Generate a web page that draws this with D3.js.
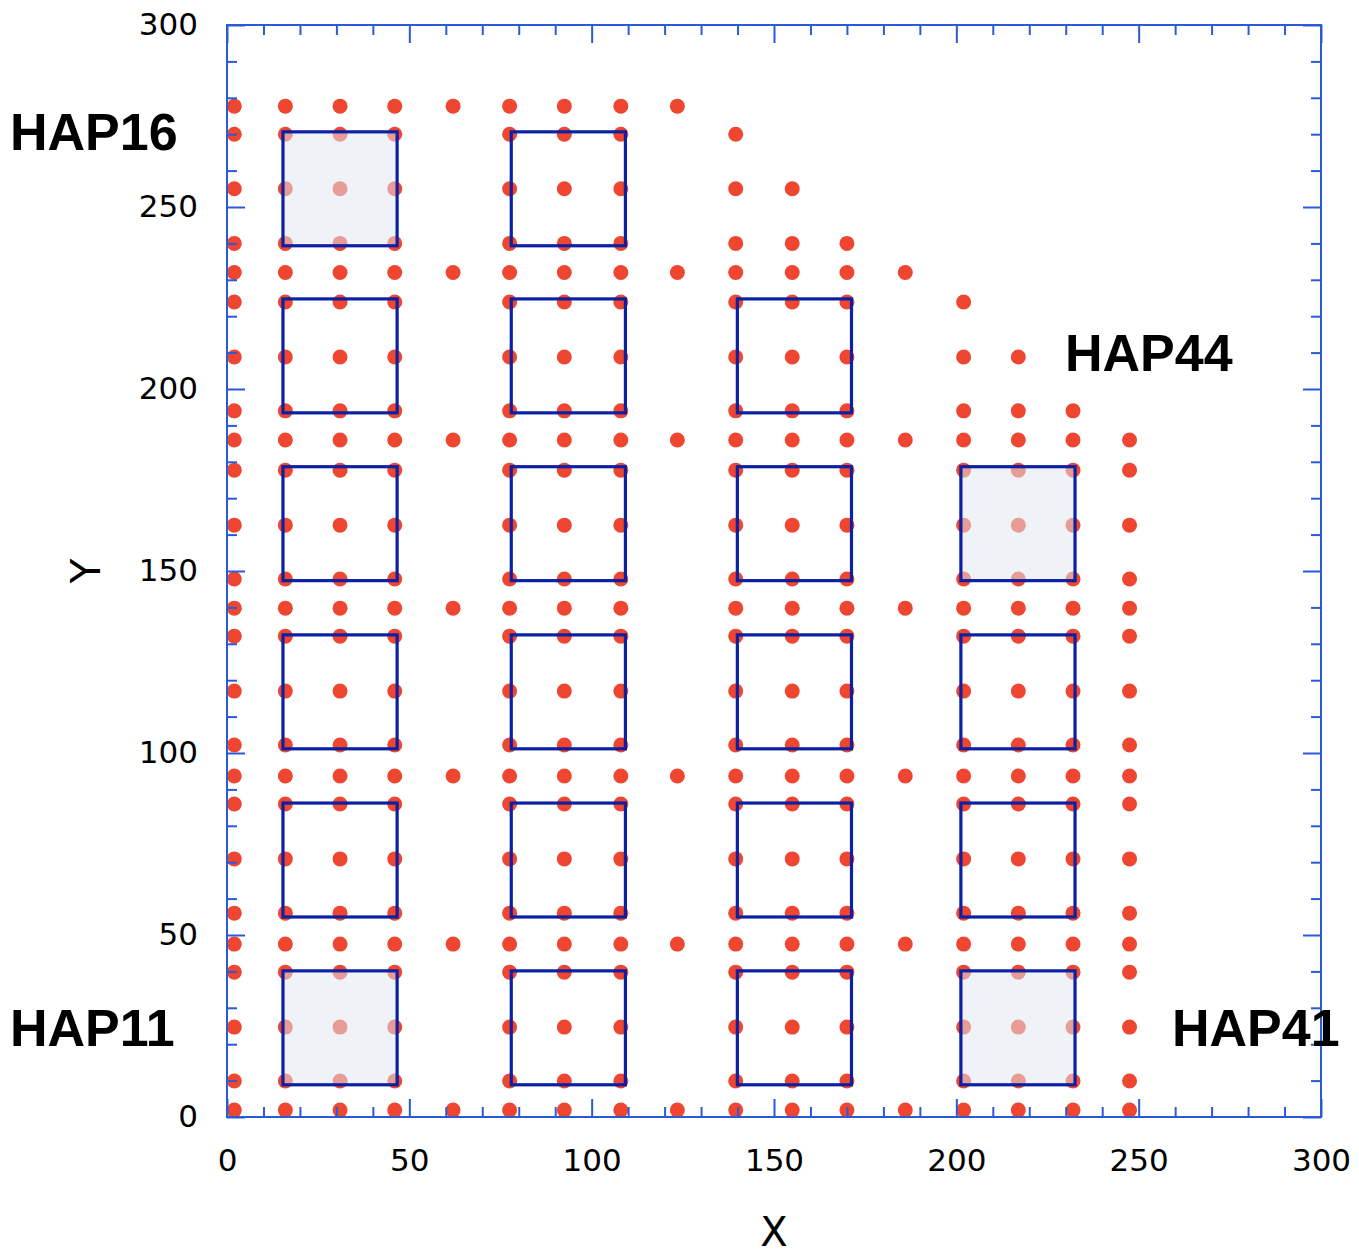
<!DOCTYPE html>
<html>
<head>
<meta charset="utf-8">
<script src="https://cdn.jsdelivr.net/npm/d3@7"></script>
<style>
  body { margin: 0; background: #fff; }
</style>
</head>
<body>
<script>
// Dot grid: column x positions, row y positions,
// and a mask per column (bottom row first) saying which rows hold a dot.
const colX = [2, 16, 31, 46, 62, 77.5, 92.5, 108, 123.5, 139.5, 155, 170, 186, 202, 217, 232, 247.5];
const rowY = [1.9, 9.9, 24.7, 39.8, 47.5, 56, 70.9, 86, 93.7, 102.2, 117, 132.1, 139.8,
              147.8, 162.6, 177.7, 186, 194, 208.8, 223.9, 232, 240, 255, 270, 277.7];
const colMask = [
    "1111111111111111111111111",
    "1111111111111111111111111",
    "1111111111111111111111111",
    "1111111111111111111111111",
    "1000100010001000100010001",
    "1111111111111111111111111",
    "1111111111111111111111111",
    "1111111111111111111111111",
    "1000100010000000100010001",
    "1111111111111111111111110",
    "1111111111111111111111100",
    "1111111111111111111111000",
    "1000100010001000100010000",
    "1111111111111111111100000",
    "1111111111111111111000000",
    "1111111111111111110000000",
    "1111111111111111100000000"
];

// Square centres (data units) and which ones are shaded
const squareX = [31, 31, 31, 31, 31, 31,
                 93.6, 93.6, 93.6, 93.6, 93.6, 93.6,
                 155.6, 155.6, 155.6, 155.6, 155.6,
                 216.9, 216.9, 216.9, 216.9];
const squareY = [24.5, 70.6, 116.8, 163, 209.1, 255,
                 24.5, 70.6, 116.8, 163, 209.1, 255,
                 24.5, 70.6, 116.8, 163, 209.1,
                 24.5, 70.6, 116.8, 163];
const shaded = [5, 0, 20, 17];

const labels = ["HAP16", "HAP44", "HAP41", "HAP11"];
const majorTicks = [0, 50, 100, 150, 200, 250, 300];
const minorTicks = d3.range(0, 301, 10).filter(v => v % 50 !== 0);

function createChart() {
    const svgWidth = 1359, svgHeight = 1254;
    const margin = { top: 25, right: 38, bottom: 137, left: 227 };
    const width = svgWidth - margin.left - margin.right;
    const height = svgHeight - margin.top - margin.bottom;

    const axisColor = "#2a5ad8";
    const dotColor = "#ee4630";
    const boxColor = "#0b20a2";
    const halfSide = 15.65;

    const x = d3.scaleLinear().domain([0, 300]).range([0, width]);
    const y = d3.scaleLinear().domain([0, 300]).range([height, 0]);

    const svg = d3.create("svg")
        .attr("width", svgWidth)
        .attr("height", svgHeight)
        .attr("viewBox", `0 0 ${svgWidth} ${svgHeight}`);

    const g = svg.append("g")
        .attr("transform", `translate(${margin.left},${margin.top})`);

    // dots
    const points = [];
    colX.forEach((cx, i) => {
        colMask[i].split("").forEach((m, j) => {
            if (m === "1") points.push({ x: cx, y: rowY[j] });
        });
    });

    g.append("g")
        .selectAll("circle")
        .data(points)
        .join("circle")
        .attr("cx", d => x(d.x))
        .attr("cy", d => y(d.y))
        .attr("r", 7.5)
        .attr("fill", dotColor);

    // squares
    const squares = squareX.map((cx, i) => ({ cx, cy: squareY[i], shade: shaded.includes(i) }));
    g.append("g")
        .selectAll("rect")
        .data(squares)
        .join("rect")
        .attr("x", d => x(d.cx - halfSide))
        .attr("y", d => y(d.cy + halfSide))
        .attr("width", d => x(d.cx + halfSide) - x(d.cx - halfSide))
        .attr("height", d => y(d.cy - halfSide) - y(d.cy + halfSide))
        .attr("fill", d => d.shade ? "rgba(224,232,242,0.53)" : "none")
        .attr("stroke", boxColor)
        .attr("stroke-width", 3.2);

    // axes, ticks pointing inward on all four sides
    function styleAxis(sel) {
        sel.select(".domain").remove();
        sel.selectAll(".tick line").attr("stroke", axisColor).attr("stroke-width", 2);
        sel.selectAll(".tick text")
            .attr("fill", "#000")
            .style("font-family", "'DejaVu Sans', sans-serif")
            .style("font-size", "31px");
    }

    const sides = [
        { make: () => d3.axisBottom(x), tr: `translate(0,${height})`, labels: true, pad: 32 },
        { make: () => d3.axisLeft(y), tr: null, labels: true, pad: 29 },
        { make: () => d3.axisTop(x), tr: null, labels: false, pad: 0 },
        { make: () => d3.axisRight(y), tr: `translate(${width},0)`, labels: false, pad: 0 }
    ];

    sides.forEach(s => {
        g.append("g").attr("transform", s.tr)
            .call(s.make().tickValues(minorTicks).tickSize(-10).tickSizeOuter(0).tickFormat(""))
            .call(styleAxis);
        g.append("g").attr("transform", s.tr)
            .call(s.make().tickValues(majorTicks).tickSize(-18).tickSizeOuter(0)
                .tickPadding(s.pad).tickFormat(s.labels ? d3.format("d") : ""))
            .call(styleAxis);
    });

    // frame
    g.append("rect")
        .attr("x", 0).attr("y", 0)
        .attr("width", width).attr("height", height)
        .attr("fill", "none")
        .attr("stroke", axisColor)
        .attr("stroke-width", 2);

    // axis titles
    svg.append("text")
        .attr("x", margin.left + x(150))
        .attr("y", 1246)
        .attr("text-anchor", "middle")
        .style("font-family", "'DejaVu Sans', sans-serif")
        .style("font-size", "40px")
        .text("X");

    svg.append("text")
        .attr("transform", `translate(100,${margin.top + y(150)}) rotate(-90)`)
        .attr("text-anchor", "middle")
        .style("font-family", "'DejaVu Sans', sans-serif")
        .style("font-size", "41px")
        .text("Y");

    // HAP labels
    const labelPos = [[10, 150], [1065, 371], [1172, 1046], [10, 1046]];
    svg.append("g")
        .selectAll("text")
        .data(labels)
        .join("text")
        .attr("x", (d, i) => labelPos[i][0])
        .attr("y", (d, i) => labelPos[i][1])
        .style("font-family", "'Liberation Sans', Arial, sans-serif")
        .style("font-weight", "bold")
        .style("font-size", "52px")
        .attr("fill", "#000")
        .text(d => d);

    document.body.append(svg.node());
}

createChart();
</script>
</body>
</html>
